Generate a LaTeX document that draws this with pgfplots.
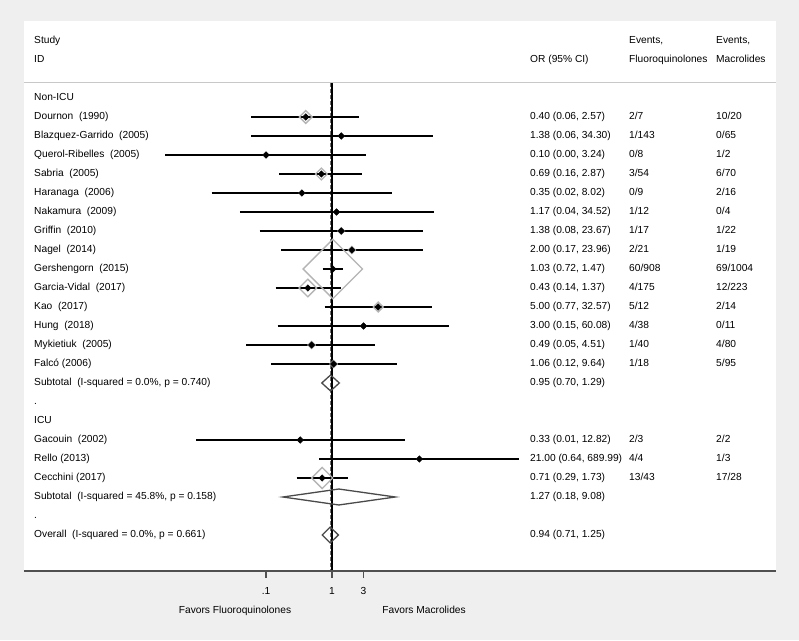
\documentclass[border=0pt]{standalone}
\usepackage{pgfplots}
\pgfplotsset{compat=1.18}
\usepackage{pgfplotstable}
\usepackage{fontspec}
\setmainfont{Liberation Sans}
\definecolor{bgc}{HTML}{EFEFEF}
\definecolor{boxgray}{HTML}{B4B4B4}
\definecolor{sumgray}{HTML}{4A4A4A}
\definecolor{axgray}{HTML}{505050}
\definecolor{dashgray}{HTML}{6E6E6E}
\definecolor{sepgray}{HTML}{C8C8C8}

% row: vertical position (negative = lower); or, lo, hi: odds ratio and 95% CI; box: weight-box half size
\pgfplotstableread{
row or lo hi box
-1 0.40 0.06 2.57 4.5
-2 1.38 0.06 34.30 1.8
-3 0.10 0.003 3.24 1.8
-4 0.69 0.16 2.87 4.2
-5 0.35 0.015 8.02 1.8
-6 1.17 0.04 34.52 1.8
-7 1.38 0.08 23.67 2.2
-8 2.00 0.17 23.96 2.5
-9 1.03 0.72 1.47 21
-10 0.43 0.14 1.37 6.2
-11 5.00 0.77 32.57 3.5
-12 3.00 0.15 60.08 1.8
-13 0.49 0.05 4.51 2.5
-14 1.06 0.12 9.64 2.5
-18 0.33 0.0087 12.82 1.6
-19 21.00 0.64 689.99 1.6
-20 0.71 0.29 1.73 7.5
}\studies

\begin{document}
\begin{tikzpicture}[font=\fontsize{10.2}{12}\selectfont]
\fill[bgc] (0,0) rectangle (799pt,640pt);
\fill[white] (24pt,69pt) rectangle (776pt,619pt);
\begin{axis}[
  at={(24pt,69pt)}, anchor=south west,
  scale only axis, width=752pt, height=550pt,
  xmode=log, log basis x=10,
  xmin=2.154e-5, xmax=5.33e6,
  ymin=-24.895, ymax=4.053,
  axis line style={draw=none},
  clip=false,
  xtick={0.1,1,3}, xticklabels={.1,1,3},
  xminorticks=false, yminorticks=false,
  tick pos=left, tick align=outside,
  major tick length=7pt,
  xtick style={axgray, line width=1.5pt},
  ytick style={draw=none},
  /pgf/number format/assume math mode=true,
  tick label style={font=\fontsize{10.2}{12}\selectfont, text height=7.5pt, text depth=2.2pt},
  xticklabel style={yshift=-9pt},
  ytick={3,2,0,-1,-2,-3,-4,-5,-6,-7,-8,-9,-10,-11,-12,-13,-14,-15,-16,-17,-18,-19,-20,-21,-22,-23},
  yticklabels={Study, ID, Non-ICU, Dournon\ \ (1990), Blazquez-Garrido\ \ (2005), Querol-Ribelles\ \ (2005), Sabria\ \ (2005), Haranaga\ \ (2006), Nakamura\ \ (2009), Griffin\ \ (2010), Nagel\ \ (2014), Gershengorn\ \ (2015), Garcia-Vidal\ \ (2017), Kao\ \ (2017), Hung\ \ (2018), Mykietiuk\ \ (2005), Falcó (2006), {Subtotal\ \ (I-squared = 0.0\%, p = 0.740)}, ., ICU, Gacouin\ \ (2002), Rello (2013), Cecchini (2017), {Subtotal\ \ (I-squared = 45.8\%, p = 0.158)}, ., {Overall\ \ (I-squared = 0.0\%, p = 0.661)}},
  yticklabel style={anchor=west, inner sep=0pt, xshift=17pt},
]
% header separator
\draw[sepgray, line width=1pt] (axis cs:2.154e-5,0.79) -- (axis cs:5.33e6,0.79);
% reference lines
\addplot[dashgray, line width=1.2pt, dash pattern=on 4pt off 2pt] coordinates {(0.94,0.79) (0.94,-24.895)};
\addplot[black, line width=1.2pt] coordinates {(1,0.79) (1,-24.895)};
% weight boxes
\addplot[scatter, only marks, mark=square,
  mark options={rotate=45, line width=1.3pt},
  scatter/use mapped color={draw=boxgray, fill=none},
  visualization depends on={\thisrow{box}\as\bsize},
  scatter/@pre marker code/.append style={/tikz/mark size=\bsize}]
  table[x=or, y=row] {\studies};
% confidence intervals
\addplot[black, line width=1.4pt, unbounded coords=jump] coordinates {
(0.06,-1) (2.57,-1) (nan,nan)
(0.06,-2) (34.30,-2) (nan,nan)
(0.003,-3) (3.24,-3) (nan,nan)
(0.16,-4) (2.87,-4) (nan,nan)
(0.015,-5) (8.02,-5) (nan,nan)
(0.04,-6) (34.52,-6) (nan,nan)
(0.08,-7) (23.67,-7) (nan,nan)
(0.17,-8) (23.96,-8) (nan,nan)
(0.72,-9) (1.47,-9) (nan,nan)
(0.14,-10) (1.37,-10) (nan,nan)
(0.77,-11) (32.57,-11) (nan,nan)
(0.15,-12) (60.08,-12) (nan,nan)
(0.05,-13) (4.51,-13) (nan,nan)
(0.12,-14) (9.64,-14) (nan,nan)
(0.0087,-18) (12.82,-18) (nan,nan)
(0.64,-19) (689.99,-19) (nan,nan)
(0.29,-20) (1.73,-20)
};
% point estimates
\addplot[only marks, mark=square*, mark size=2.3pt,
  mark options={rotate=45, draw=black, fill=black, line width=0.4pt}]
  table[x=or, y=row] {\studies};
% pooled diamonds
\addplot[sumgray, line width=1.3pt] coordinates {(0.70,-15) (0.95,-14.58) (1.29,-15) (0.95,-15.42)} -- cycle;
\addplot[sumgray, line width=1.3pt] coordinates {(0.18,-21) (1.27,-20.58) (9.08,-21) (1.27,-21.42)} -- cycle;
\addplot[sumgray, line width=1.3pt] coordinates {(0.71,-23) (0.94,-22.58) (1.25,-23) (0.94,-23.42)} -- cycle;
% bottom axis line
\draw[axgray, line width=1.6pt] (axis description cs:0,0) -- (axis description cs:1,0);

\tikzset{every node/.append style={inner sep=0pt, text height=7.5pt, text depth=2.2pt}}
% headers
\node[anchor=west] at (axis cs:1000,2) {OR (95\% CI)};
\node[anchor=west] at (axis cs:31623,3) {Events,};
\node[anchor=west] at (axis cs:31623,2) {Fluoroquinolones};
\node[anchor=west] at (axis cs:6.58e5,3) {Events,};
\node[anchor=west] at (axis cs:6.58e5,2) {Macrolides};
% OR column
\node[anchor=west] at (axis cs:1000,-1) {0.40 (0.06, 2.57)};
\node[anchor=west] at (axis cs:1000,-2) {1.38 (0.06, 34.30)};
\node[anchor=west] at (axis cs:1000,-3) {0.10 (0.00, 3.24)};
\node[anchor=west] at (axis cs:1000,-4) {0.69 (0.16, 2.87)};
\node[anchor=west] at (axis cs:1000,-5) {0.35 (0.02, 8.02)};
\node[anchor=west] at (axis cs:1000,-6) {1.17 (0.04, 34.52)};
\node[anchor=west] at (axis cs:1000,-7) {1.38 (0.08, 23.67)};
\node[anchor=west] at (axis cs:1000,-8) {2.00 (0.17, 23.96)};
\node[anchor=west] at (axis cs:1000,-9) {1.03 (0.72, 1.47)};
\node[anchor=west] at (axis cs:1000,-10) {0.43 (0.14, 1.37)};
\node[anchor=west] at (axis cs:1000,-11) {5.00 (0.77, 32.57)};
\node[anchor=west] at (axis cs:1000,-12) {3.00 (0.15, 60.08)};
\node[anchor=west] at (axis cs:1000,-13) {0.49 (0.05, 4.51)};
\node[anchor=west] at (axis cs:1000,-14) {1.06 (0.12, 9.64)};
\node[anchor=west] at (axis cs:1000,-15) {0.95 (0.70, 1.29)};
\node[anchor=west] at (axis cs:1000,-18) {0.33 (0.01, 12.82)};
\node[anchor=west] at (axis cs:1000,-19) {21.00 (0.64, 689.99)};
\node[anchor=west] at (axis cs:1000,-20) {0.71 (0.29, 1.73)};
\node[anchor=west] at (axis cs:1000,-21) {1.27 (0.18, 9.08)};
\node[anchor=west] at (axis cs:1000,-23) {0.94 (0.71, 1.25)};
% events, fluoroquinolones
\node[anchor=west] at (axis cs:31623,-1) {2/7};
\node[anchor=west] at (axis cs:31623,-2) {1/143};
\node[anchor=west] at (axis cs:31623,-3) {0/8};
\node[anchor=west] at (axis cs:31623,-4) {3/54};
\node[anchor=west] at (axis cs:31623,-5) {0/9};
\node[anchor=west] at (axis cs:31623,-6) {1/12};
\node[anchor=west] at (axis cs:31623,-7) {1/17};
\node[anchor=west] at (axis cs:31623,-8) {2/21};
\node[anchor=west] at (axis cs:31623,-9) {60/908};
\node[anchor=west] at (axis cs:31623,-10) {4/175};
\node[anchor=west] at (axis cs:31623,-11) {5/12};
\node[anchor=west] at (axis cs:31623,-12) {4/38};
\node[anchor=west] at (axis cs:31623,-13) {1/40};
\node[anchor=west] at (axis cs:31623,-14) {1/18};
\node[anchor=west] at (axis cs:31623,-18) {2/3};
\node[anchor=west] at (axis cs:31623,-19) {4/4};
\node[anchor=west] at (axis cs:31623,-20) {13/43};
% events, macrolides
\node[anchor=west] at (axis cs:6.58e5,-1) {10/20};
\node[anchor=west] at (axis cs:6.58e5,-2) {0/65};
\node[anchor=west] at (axis cs:6.58e5,-3) {1/2};
\node[anchor=west] at (axis cs:6.58e5,-4) {6/70};
\node[anchor=west] at (axis cs:6.58e5,-5) {2/16};
\node[anchor=west] at (axis cs:6.58e5,-6) {0/4};
\node[anchor=west] at (axis cs:6.58e5,-7) {1/22};
\node[anchor=west] at (axis cs:6.58e5,-8) {1/19};
\node[anchor=west] at (axis cs:6.58e5,-9) {69/1004};
\node[anchor=west] at (axis cs:6.58e5,-10) {12/223};
\node[anchor=west] at (axis cs:6.58e5,-11) {2/14};
\node[anchor=west] at (axis cs:6.58e5,-12) {0/11};
\node[anchor=west] at (axis cs:6.58e5,-13) {4/80};
\node[anchor=west] at (axis cs:6.58e5,-14) {5/95};
\node[anchor=west] at (axis cs:6.58e5,-18) {2/2};
\node[anchor=west] at (axis cs:6.58e5,-19) {1/3};
\node[anchor=west] at (axis cs:6.58e5,-20) {17/28};
% direction labels
\node at (axis cs:0.0339,-27.0) {Favors Fluoroquinolones};
\node at (axis cs:24.8,-27.0) {Favors Macrolides};
\end{axis}
\end{tikzpicture}
\end{document}
